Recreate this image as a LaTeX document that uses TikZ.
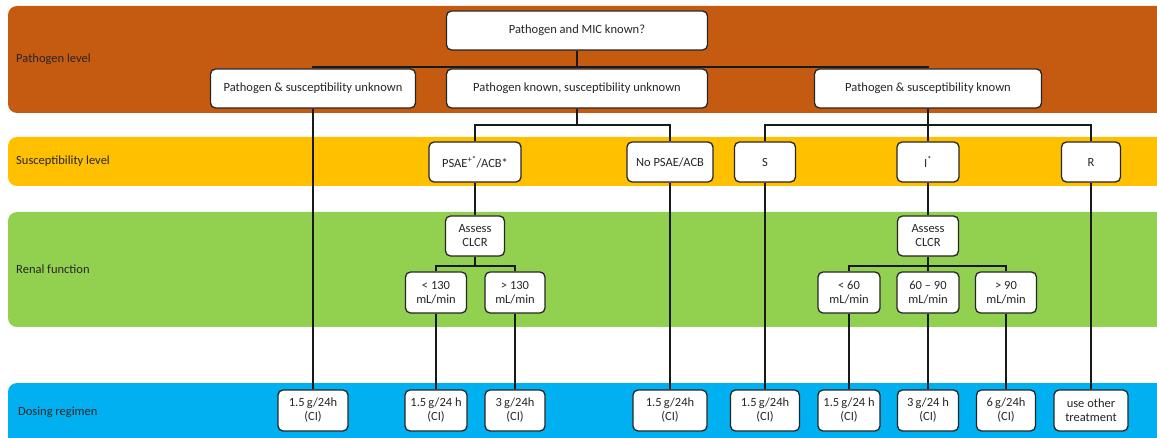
\documentclass[tikz,border=0pt]{standalone}
\usepackage{fontspec}
\setmainfont{Carlito}
\definecolor{bandbrown}{HTML}{C55A11}
\definecolor{bandorange}{HTML}{FFC000}
\definecolor{bandgreen}{HTML}{92D050}
\definecolor{bandblue}{HTML}{00B0F0}
\tikzset{
  band/.style={rounded corners=9pt, draw=none},
  bandlabel/.style={anchor=west, text=black!85, inner sep=0pt, font=\fontsize{12.5}{14}\selectfont},
  box/.style={draw=black!85, line width=1.3pt, fill=white, rounded corners=5pt, inner sep=0pt,
    align=center, font=\fontsize{12.5}{14}\selectfont, text=black!85},
  wide/.style={box, minimum height=39pt},
  tall/.style={box, minimum height=40pt},
  conn/.style={line width=1.3pt, black!90}
}
\begin{document}
\begin{tikzpicture}[x=1pt,y=-1pt]
\clip (0,0) rectangle (1157,438);
\useasboundingbox (0,0) rectangle (1157,438);
% bands
\fill[band, bandbrown] (8,6) rectangle (1172,113);
\fill[band, bandorange] (8,137) rectangle (1172,186);
\fill[band, bandgreen] (8,212) rectangle (1172,327);
\fill[band, bandblue] (8,383) rectangle (1172,452);
\node[bandlabel] (lp) at (16,59) {Pathogen level};
\node[bandlabel] (ls) at (16,161) {Susceptibility level};
\node[bandlabel] (lr) at (16,269) {Renal function};
\node[bandlabel] (ld) at (18,412) {Dosing regimen};
% level 1
\node[wide, minimum width=261pt] (q) at (577,30.5) {Pathogen and MIC known?};
\node[wide, minimum width=205pt] (pu) at (313,88.5) {Pathogen \& susceptibility unknown};
\node[wide, minimum width=261pt] (pk) at (577,88.5) {Pathogen known, susceptibility unknown};
\node[wide, minimum width=227pt] (pks) at (928,88.5) {Pathogen \& susceptibility known};
% level 2
\node[tall, minimum width=92pt] (psae) at (475,162) {PSAE\textsuperscript{+*}/ACB*};
\node[tall, minimum width=86pt] (nops) at (670,162) {No PSAE/ACB};
\node[tall, minimum width=61pt] (s) at (765,162) {S};
\node[tall, minimum width=62pt] (i) at (928,162) {I\textsuperscript{*}};
\node[tall, minimum width=59pt] (r) at (1091,162) {R};
% level 3
\node[tall, minimum width=59pt] (ac1) at (475,236) {Assess\\CLCR};
\node[tall, minimum width=61pt] (ac2) at (928,236) {Assess\\CLCR};
\node[tall, minimum width=61pt, minimum height=41pt] (lt130) at (436,292.5) {< 130\\mL/min};
\node[tall, minimum width=60pt, minimum height=41pt] (gt130) at (515,292.5) {> 130\\mL/min};
\node[tall, minimum width=62pt, minimum height=41pt] (lt60) at (849,292.5) {< 60\\mL/min};
\node[tall, minimum width=62pt, minimum height=41pt] (m6090) at (928,292.5) {60 – 90\\mL/min};
\node[tall, minimum width=61pt, minimum height=41pt] (gt90) at (1006,292.5) {> 90\\mL/min};
% level 4
\node[tall, minimum width=70pt, minimum height=41pt] (d1) at (313,410.5) {1.5\,g/24h\\(CI)};
\node[tall, minimum width=62pt, minimum height=41pt] (d2) at (436,410.5) {1.5\,g/24 h\\(CI)};
\node[tall, minimum width=60pt, minimum height=41pt] (d3) at (515,410.5) {3\,g/24h\\(CI)};
\node[tall, minimum width=74pt, minimum height=41pt] (d4) at (670,410.5) {1.5\,g/24h\\(CI)};
\node[tall, minimum width=69pt, minimum height=41pt] (d5) at (765,410.5) {1.5\,g/24h\\(CI)};
\node[tall, minimum width=62pt, minimum height=41pt] (d6) at (849,410.5) {1.5\,g/24 h\\(CI)};
\node[tall, minimum width=61pt, minimum height=41pt] (d7) at (928,410.5) {3\,g/24 h\\(CI)};
\node[tall, minimum width=59pt, minimum height=41pt] (d8) at (1006,410.5) {6\,g/24h\\(CI)};
\node[tall, minimum width=74pt, minimum height=41pt] (d9) at (1091,410.5) {use other\\treatment};
% junctions
\coordinate (j1) at (577,67);
\coordinate (j2) at (577,125);
\coordinate (j3) at (928,125);
\coordinate (j4) at (475,266);
\coordinate (j5) at (928,266);
% connectors
\begin{scope}[on background layer/.style={}]
\draw[conn] (q.south) -- (pk.north);
\draw[conn] (pu.north) |- (j1) -| (pks.north);
\draw[conn] (pk.south) -- (j2);
\draw[conn] (psae.north) |- (j2) -| (nops.north);
\draw[conn] (pks.south) -- (i.north);
\draw[conn] (s.north) |- (j3) -| (r.north);
\draw[conn] (psae.south) -- (ac1.north);
\draw[conn] (i.south) -- (ac2.north);
\draw[conn] (ac1.south) -- (j4);
\draw[conn] (lt130.north) |- (j4) -| (gt130.north);
\draw[conn] (ac2.south) -- (m6090.north);
\draw[conn] (lt60.north) |- (j5) -| (gt90.north);
\draw[conn] (pu.south) -- (d1.north);
\draw[conn] (lt130.south) -- (d2.north);
\draw[conn] (gt130.south) -- (d3.north);
\draw[conn] (nops.south) -- (d4.north);
\draw[conn] (s.south) -- (d5.north);
\draw[conn] (lt60.south) -- (d6.north);
\draw[conn] (m6090.south) -- (d7.north);
\draw[conn] (gt90.south) -- (d8.north);
\draw[conn] (r.south) -- (d9.north);
\end{scope}
\end{tikzpicture}
\end{document}
